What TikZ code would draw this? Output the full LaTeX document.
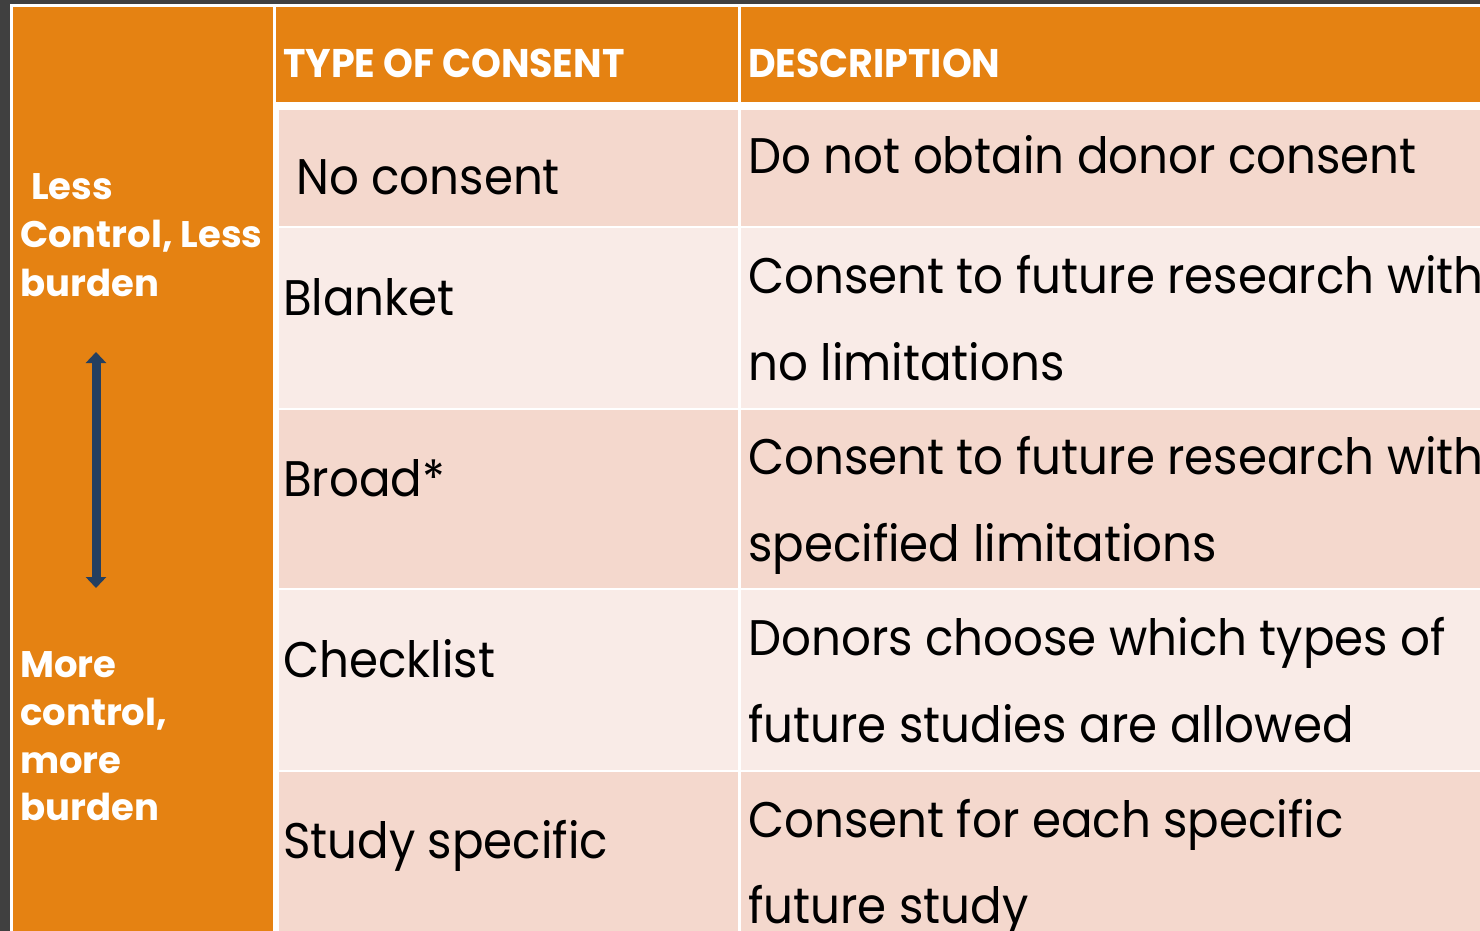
\documentclass[tikz,border=0pt]{standalone}
\usepackage{fontspec}
\setmainfont{Poppins}
\newfontfamily\bodyfont{Poppins}[FakeStretch=0.935]
\newfontfamily\hdrfont{Poppins}[FakeStretch=0.95]
\usetikzlibrary{arrows.meta}
\definecolor{bgdark}{HTML}{404040}
\definecolor{orng}{HTML}{E58212}
\definecolor{pinkA}{HTML}{F4D8CD}
\definecolor{pinkB}{HTML}{F9EBE7}
\definecolor{navy}{HTML}{243F60}
\begin{document}
\begin{tikzpicture}[x=1pt,y=-1pt,
  bodytxt/.style={anchor=base west, inner sep=0pt, font=\bodyfont\fontsize{50}{60}\selectfont, text=black},
  hdrtxt/.style={anchor=base west, inner sep=0pt, font=\hdrfont\bfseries\fontsize{40}{48}\selectfont, text=white},
  sidetxt/.style={anchor=base west, inner sep=0pt, font=\bfseries\fontsize{37}{44}\selectfont, text=white},
  dblarrow/.style={draw=navy, line width=9pt, {Triangle[width=20pt,length=11pt]}-{Triangle[width=20pt,length=11pt]}}]
\useasboundingbox (0,0) rectangle (1480,931);
\fill[bgdark] (0,0) rectangle (1480,931);
\fill[white] (10,4) rectangle (1480,931);
% left column
\fill[orng] (13,7) rectangle (273,931);
% header
\fill[orng] (276,7) rectangle (738,102);
\fill[orng] (741,7) rectangle (1480,102);
% body rows
\foreach \t/\b/\c in {110/226/pinkA, 228/408/pinkB, 410/588/pinkA, 590/770/pinkB, 772/931/pinkA}{
  \fill[\c] (279,\t) rectangle (738,\b);
  \fill[\c] (741,\t) rectangle (1480,\b);
}
% header texts
\node[hdrtxt] (h1) at (283,78) {TYPE OF CONSENT};
\node[hdrtxt] (h2) at (748,78) {DESCRIPTION};
% side texts
\node[sidetxt] (s1) at (31,199) {Less};
\node[sidetxt] (s2) at (20,247) {Control, Less};
\node[sidetxt] (s3) at (20,296) {burden};
\node[sidetxt] (m1) at (20,677) {More};
\node[sidetxt] (m2) at (20,725) {control,};
\node[sidetxt] (m3) at (20,773) {more};
\node[sidetxt] (m4) at (20,820) {burden};
% arrow
\coordinate (atop) at (96,352);
\coordinate (abot) at (96,588);
\draw[dblarrow] (atop) -- (abot);
% type column
\node[bodytxt] (t1) at (296,194) {No consent};
\node[bodytxt] (t2) at (283,315) {Blanket};
\node[bodytxt] (t3) at (283,496) {Broad*};
\node[bodytxt] (t4) at (283,677) {Checklist};
\node[bodytxt] (t5) at (283,858) {Study specific};
% descriptions
\node[bodytxt] (d1) at (748,173) {Do not obtain donor consent};
\node[bodytxt] (d2a) at (748,293) {Consent to future research with};
\node[bodytxt] (d2b) at (748,380) {no limitations};
\node[bodytxt] (d3a) at (748,474) {Consent to future research with};
\node[bodytxt] (d3b) at (748,561) {specified limitations};
\node[bodytxt] (d4a) at (748,655) {Donors choose which types of};
\node[bodytxt] (d4b) at (748,742) {future studies are allowed};
\node[bodytxt] (d5a) at (748,837) {Consent for each specific};
\node[bodytxt] (d5b) at (748,923) {future study};
\end{tikzpicture}
\end{document}
